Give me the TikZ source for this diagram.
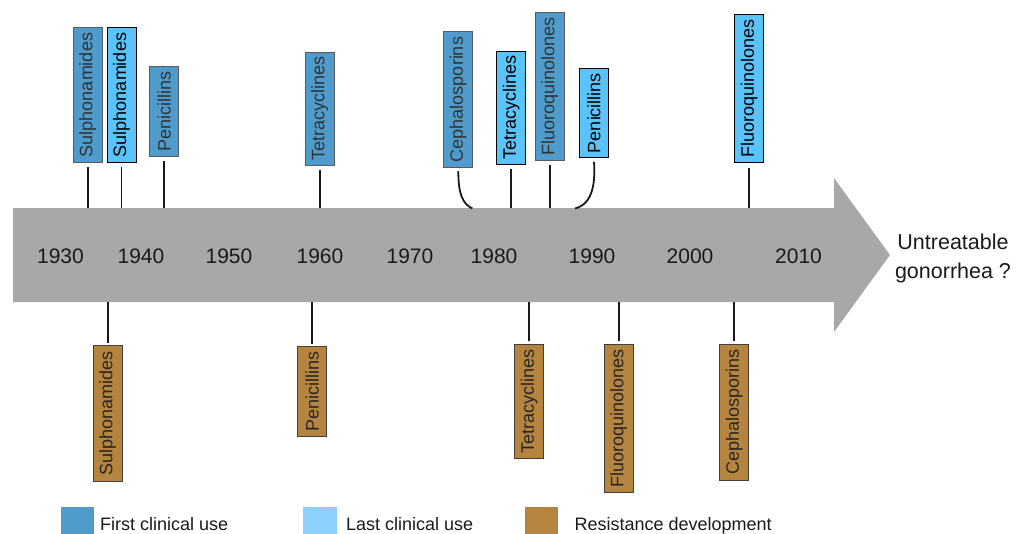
\documentclass[tikz,border=0pt]{standalone}
\usepackage{fontspec}
\setmainfont{Liberation Sans}
\definecolor{firstc}{HTML}{4F9BCB}
\definecolor{lastc}{HTML}{5AC3F9}
\definecolor{lastleg}{HTML}{8BD1FB}
\definecolor{resc}{HTML}{B5843F}
\definecolor{axisc}{HTML}{A8A8A8}
\definecolor{txtc}{HTML}{1A1A1A}
\tikzset{
  box/.style={draw, rotate=90, minimum height=29pt, inner sep=0pt, line width=0.9pt, font=\fontsize{18}{20}\selectfont},
  firstbox/.style={box, fill=firstc, draw=black!65, text=black!80},
  lastbox/.style={box, fill=lastc, draw=black, text=black},
  resbox/.style={box, fill=resc, draw=black!75, text=black!85},
  conn/.style={draw=black!90, line width=1.8pt},
  year/.style={font=\fontsize{21}{24}\selectfont, text=txtc},
  legtext/.style={font=\fontsize{18}{20}\selectfont, text=txtc, anchor=base west, inner sep=0pt},
}
\begin{document}
\begin{tikzpicture}[x=1pt, y=-1pt]
\useasboundingbox (0,0) rectangle (1019,533);
% timeline arrow
\fill[axisc] (13,208) -- (834,208) -- (834,178) -- (890,255) -- (834,332) -- (834,302) -- (13,302) -- cycle;
\coordinate (axT) at (0,208);
\coordinate (axB) at (0,302);
% years
\node[year] (y1930) at (60.5,256) {1930};
\node[year] (y1940) at (141,256) {1940};
\node[year] (y1950) at (229,256) {1950};
\node[year] (y1960) at (320,256) {1960};
\node[year] (y1970) at (410,256) {1970};
\node[year] (y1980) at (494,256) {1980};
\node[year] (y1990) at (592,256) {1990};
\node[year] (y2000) at (690,256) {2000};
\node[year] (y2010) at (798.5,256) {2010};
\node[font=\fontsize{21.5}{29}\selectfont, text=txtc, align=center] (untr) at (953,258) {Untreatable\\gonorrhea ?};
% top boxes
\node[firstbox, minimum width=134.6pt] (sulF) at (87.8,95) {Sulphonamides};
\node[lastbox, minimum width=134.3pt] (sulL) at (121.5,95) {Sulphonamides};
\node[firstbox, minimum width=89.3pt] (penF) at (164.2,111.3) {Penicillins};
\node[firstbox, minimum width=113.3pt] (tetF) at (319.8,108.7) {Tetracyclines};
\node[firstbox, minimum width=135.6pt] (cepF) at (458.3,99.5) {Cephalosporins};
\node[lastbox, minimum width=113.3pt] (tetL) at (511.2,107.7) {Tetracyclines};
\node[firstbox, minimum width=148.3pt] (fluF) at (549.7,86.2) {Fluoroquinolones};
\node[lastbox, minimum width=89.4pt] (penL) at (594,113) {Penicillins};
\node[lastbox, minimum width=148.7pt] (fluL) at (749.2,88.3) {Fluoroquinolones};
% bottom boxes
\node[resbox, minimum width=135.3pt] (sulR) at (107.8,413.3) {Sulphonamides};
\node[resbox, minimum width=89.3pt] (penR) at (312.3,391.3) {Penicillins};
\node[resbox, minimum width=114.3pt] (tetR) at (529.2,401.2) {Tetracyclines};
\node[resbox, minimum width=148.7pt] (fluR) at (618.8,418.3) {Fluoroquinolones};
\node[resbox, minimum width=136.7pt] (cepR) at (734.3,412.3) {Cephalosporins};
% top connectors
\foreach \n in {sulF,sulL,penF,tetF,tetL,fluF,fluL}
  \draw[conn] ([yshift=-4.4pt]\n.west) -- (\n.west |- axT);
\coordinate (cepS) at ([yshift=-3.4pt]cepF.west);
\coordinate (cepE) at (472.3,208.5);
\draw[conn] (cepS) .. controls (458.3,196) and (463.5,204) .. (cepE);
\coordinate (penS) at ([yshift=-3.6pt]penL.west);
\coordinate (penE) at (575,208.5);
\draw[conn] (penS) .. controls (596.5,197) and (585,206) .. (penE);
% bottom connectors
\foreach \n in {sulR,penR,tetR,fluR,cepR}
  \draw[conn] (\n.east |- axB) -- ([yshift=2.5pt]\n.east);
% legend
\fill[firstc] (61,506.7) rectangle (94,540);
\node[legtext] (legF) at (100,530) {First clinical use};
\fill[lastleg] (303.3,506.7) rectangle (336.7,540);
\node[legtext] (legL) at (346,530) {Last clinical use};
\fill[resc] (525,506.7) rectangle (558.3,540);
\node[legtext] (legR) at (574.3,530) {Resistance development};
\end{tikzpicture}
\end{document}
